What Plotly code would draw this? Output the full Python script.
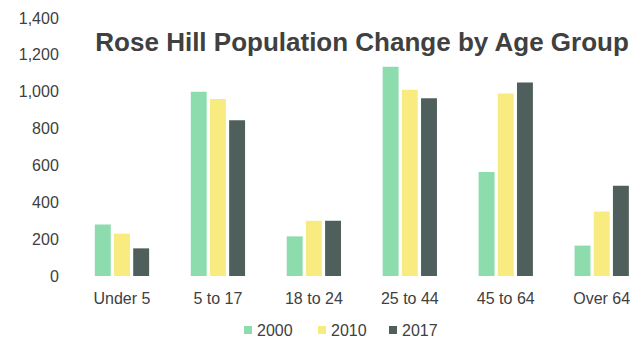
import plotly.graph_objects as go

age_groups = ["Under 5", "5 to 17", "18 to 24", "25 to 44", "45 to 64", "Over 64"]
years = ["2000", "2010", "2017"]
pop_2000 = [280, 1000, 215, 1135, 565, 165]
pop_2010 = [230, 960, 300, 1010, 990, 350]
pop_2017 = [150, 845, 300, 965, 1050, 490]
y_ticks = [0, 200, 400, 600, 800, 1000, 1200, 1400]
y_tick_text = ["0", "200", "400", "600", "800", "1,000", "1,200", "1,400"]

colors = ["#8cdcae", "#f8eb80", "#4f5f5c"]
series = [pop_2000, pop_2010, pop_2017]
font_family = "Liberation Sans"

W, H = 642, 343
M_L, M_R, M_T, M_B = 74, 0, 18, 67
plot_w = W - M_L - M_R
plot_h = H - M_T - M_B


def px_to_paper(px, py):
    return (px - M_L) / plot_w, (H - M_B - py) / plot_h


fig = go.Figure()
for name, vals, col in zip(years, series, colors):
    fig.add_trace(go.Bar(name=name, x=age_groups, y=vals, marker_color=col,
                         marker_line_width=0))

# Compact legend row below the axis: small square key + label per series
key_x = [248, 322, 393]
key_y = 330
key_half = 4
for name, col, kx in zip(years, colors, key_x):
    x0, y0 = px_to_paper(kx - key_half, key_y + key_half)
    x1, y1 = px_to_paper(kx + key_half, key_y - key_half)
    fig.add_shape(type="rect", xref="paper", yref="paper", x0=x0, y0=y0, x1=x1, y1=y1,
                  fillcolor=col, line_width=0)
    tx, ty = px_to_paper(kx + 7, key_y)
    fig.add_annotation(text=name, xref="paper", yref="paper", x=tx, y=ty,
                       xanchor="left", yanchor="middle", showarrow=False,
                       font=dict(family=font_family, size=16, color="#404040"))

fig.update_layout(
    width=W, height=H,
    margin=dict(l=M_L, r=M_R, t=M_T, b=M_B),
    paper_bgcolor="white", plot_bgcolor="white",
    font=dict(family=font_family, color="#404040", size=14),
    barmode="group", bargap=0.4, bargroupgap=0.17,
    showlegend=False,
    title=dict(text="<b>Rose Hill Population Change by Age Group</b>",
               x=0.564, xanchor="center", y=0.877, yanchor="middle",
               font=dict(family=font_family, size=26, color="#404040")),
    xaxis=dict(range=[-0.5, 5.42], showgrid=False, showline=False, zeroline=False,
               ticks="outside", ticklen=8, tickcolor="rgba(0,0,0,0)",
               tickfont=dict(family=font_family, size=16, color="#404040")),
    yaxis=dict(range=[0, 1400], tickvals=y_ticks, ticktext=y_tick_text,
               showgrid=False, zeroline=False, showline=False, ticks="outside",
               ticklen=11, tickcolor="rgba(0,0,0,0)",
               tickfont=dict(family=font_family, size=16, color="#404040")),
)

fig.write_html("out.html")
